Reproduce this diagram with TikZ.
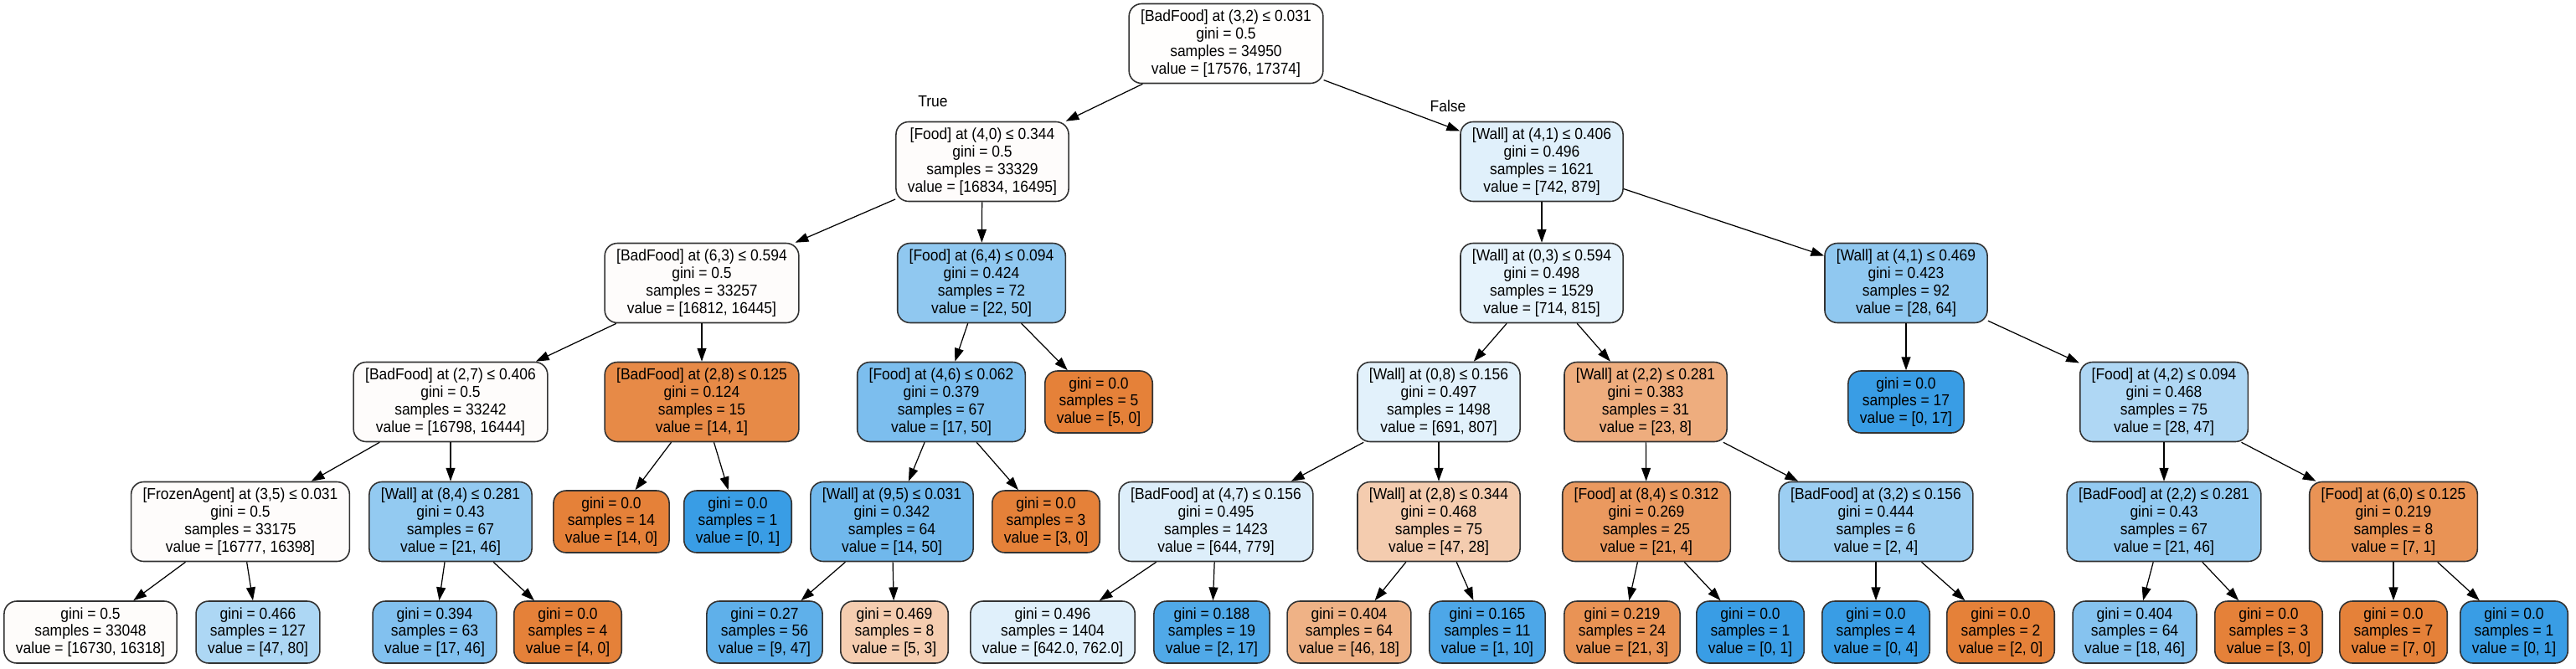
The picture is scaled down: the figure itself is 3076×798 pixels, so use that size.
\documentclass[tikz,border=0pt]{standalone}
\usepackage{fontspec}
\setmainfont{Liberation Sans}[FakeStretch=0.92]
\usepackage{xcolor}
\usepackage{tikz}
\usetikzlibrary{arrows.meta}
\definecolor{orng}{HTML}{E58139}
\definecolor{blu}{HTML}{399DE5}
\tikzset{
  ar/.style={-{Triangle[length=9pt,width=6.2pt]},line width=0.7pt},
  nd/.style={draw=black!80,line width=0.9pt,rounded corners=0.3cm,align=center,inner xsep=0.28cm,inner ysep=0pt,font=\fontsize{10.8}{11.9}\selectfont},
  sp/.style={nd,minimum height=1.9cm},
  lf/.style={nd,minimum height=1.48cm},
  lbl/.style={font=\fontsize{10.8}{11.9}\selectfont}
}
\newcommand{\spl}[4]{#1\\gini = #2\\samples = #3\\value = [#4]}
\newcommand{\lfv}[3]{gini = #1\\samples = #2\\value = [#3]}

\begin{document}
\begin{tikzpicture}[x=0.02cm,y=-0.02cm]
\fill[white] (0,0) rectangle (3076,798);
\useasboundingbox (0,0) rectangle (3076,798);
\node[sp,fill=orng!1.15] (r) at (1464,52) {\spl{[BadFood] at (3,2) ≤ 0.031}{0.5}{34950}{17576, 17374}};
\node[sp,fill=orng!2.01] (n1) at (1173,193) {\spl{[Food] at (4,0) ≤ 0.344}{0.5}{33329}{16834, 16495}};
\node[sp,fill=blu!15.6] (n2) at (1841,193) {\spl{[Wall] at (4,1) ≤ 0.406}{0.496}{1621}{742, 879}};
\node[sp,fill=orng!2.18] (n3) at (838,338) {\spl{[BadFood] at (6,3) ≤ 0.594}{0.5}{33257}{16812, 16445}};
\node[sp,fill=blu!56] (n4) at (1172,338) {\spl{[Food] at (6,4) ≤ 0.094}{0.424}{72}{22, 50}};
\node[sp,fill=blu!12.4] (n5) at (1841,338) {\spl{[Wall] at (0,3) ≤ 0.594}{0.498}{1529}{714, 815}};
\node[sp,fill=blu!56.25] (n6) at (2276,338) {\spl{[Wall] at (4,1) ≤ 0.469}{0.423}{92}{28, 64}};
\node[sp,fill=orng!2.11] (n7) at (538,480) {\spl{[BadFood] at (2,7) ≤ 0.406}{0.5}{33242}{16798, 16444}};
\node[sp,fill=orng!92.9] (n8) at (838,480) {\spl{[BadFood] at (2,8) ≤ 0.125}{0.124}{15}{14, 1}};
\node[sp,fill=blu!66] (n9) at (1124,480) {\spl{[Food] at (4,6) ≤ 0.062}{0.379}{67}{17, 50}};
\node[lf,fill=orng] (n10) at (1312,480) {\lfv{0.0}{5}{5, 0}};
\node[sp,fill=blu!14.4] (n11) at (1718,480) {\spl{[Wall] at (0,8) ≤ 0.156}{0.497}{1498}{691, 807}};
\node[sp,fill=orng!65.2] (n12) at (1965,480) {\spl{[Wall] at (2,2) ≤ 0.281}{0.383}{31}{23, 8}};
\node[lf,fill=blu] (n13) at (2276,480) {\lfv{0.0}{17}{0, 17}};
\node[sp,fill=blu!40.4] (n14) at (2584,480) {\spl{[Food] at (4,2) ≤ 0.094}{0.468}{75}{28, 47}};
\node[sp,fill=orng!2.26] (n15) at (287,623) {\spl{[FrozenAgent] at (3,5) ≤ 0.031}{0.5}{33175}{16777, 16398}};
\node[sp,fill=blu!54.3] (n16) at (538,623) {\spl{[Wall] at (8,4) ≤ 0.281}{0.43}{67}{21, 46}};
\node[lf,fill=orng] (n17) at (730,623) {\lfv{0.0}{14}{14, 0}};
\node[lf,fill=blu] (n18) at (881,623) {\lfv{0.0}{1}{0, 1}};
\node[sp,fill=blu!72] (n19) at (1065,623) {\spl{[Wall] at (9,5) ≤ 0.031}{0.342}{64}{14, 50}};
\node[lf,fill=orng] (n20) at (1249,623) {\lfv{0.0}{3}{3, 0}};
\node[sp,fill=blu!17.3] (n21) at (1452,623) {\spl{[BadFood] at (4,7) ≤ 0.156}{0.495}{1423}{644, 779}};
\node[sp,fill=orng!40.4] (n22) at (1718,623) {\spl{[Wall] at (2,8) ≤ 0.344}{0.468}{75}{47, 28}};
\node[sp,fill=orng!81] (n23) at (1966,623) {\spl{[Food] at (8,4) ≤ 0.312}{0.269}{25}{21, 4}};
\node[sp,fill=blu!50] (n24) at (2240,623) {\spl{[BadFood] at (3,2) ≤ 0.156}{0.444}{6}{2, 4}};
\node[sp,fill=blu!54.3] (n25) at (2584,623) {\spl{[BadFood] at (2,2) ≤ 0.281}{0.43}{67}{21, 46}};
\node[sp,fill=orng!85.7] (n26) at (2858,623) {\spl{[Food] at (6,0) ≤ 0.125}{0.219}{8}{7, 1}};
\node[lf,fill=orng!2.46] (l1) at (108,755) {\lfv{0.5}{33048}{16730, 16318}};
\node[lf,fill=blu!41.25] (l2) at (308,755) {\lfv{0.466}{127}{47, 80}};
\node[lf,fill=blu!63] (l3) at (519,755) {\lfv{0.394}{63}{17, 46}};
\node[lf,fill=orng] (l4) at (678,755) {\lfv{0.0}{4}{4, 0}};
\node[lf,fill=blu!80.9] (l5) at (913,755) {\lfv{0.27}{56}{9, 47}};
\node[lf,fill=orng!40] (l6) at (1068,755) {\lfv{0.469}{8}{5, 3}};
\node[lf,fill=blu!15.7] (l7) at (1257,755) {\lfv{0.496}{1404}{642.0, 762.0}};
\node[lf,fill=blu!88.2] (l8) at (1447,755) {\lfv{0.188}{19}{2, 17}};
\node[lf,fill=orng!60.9] (l9) at (1611,755) {\lfv{0.404}{64}{46, 18}};
\node[lf,fill=blu!90] (l10) at (1776,755) {\lfv{0.165}{11}{1, 10}};
\node[lf,fill=orng!85.7] (l11) at (1937,755) {\lfv{0.219}{24}{21, 3}};
\node[lf,fill=blu] (l12) at (2090,755) {\lfv{0.0}{1}{0, 1}};
\node[lf,fill=blu] (l13) at (2240,755) {\lfv{0.0}{4}{0, 4}};
\node[lf,fill=orng] (l14) at (2389,755) {\lfv{0.0}{2}{2, 0}};
\node[lf,fill=blu!60.9] (l15) at (2549,755) {\lfv{0.404}{64}{18, 46}};
\node[lf,fill=orng] (l16) at (2709,755) {\lfv{0.0}{3}{3, 0}};
\node[lf,fill=orng] (l17) at (2858,755) {\lfv{0.0}{7}{7, 0}};
\node[lf,fill=blu] (l18) at (3002,755) {\lfv{0.0}{1}{0, 1}};
\node[lbl] (tl) at (1114,121) {True};
\node[lbl] (fl) at (1729,127) {False};
\foreach \a/\b in {r/n1,r/n2,n1/n3,n1/n4,n2/n5,n2/n6,n3/n7,n3/n8,n4/n9,n4/n10,n5/n11,n5/n12,n6/n13,n6/n14,n7/n15,n7/n16,n8/n17,n8/n18,n9/n19,n9/n20,n11/n21,n11/n22,n12/n23,n12/n24,n14/n25,n14/n26,n15/l1,n15/l2,n16/l3,n16/l4,n19/l5,n19/l6,n21/l7,n21/l8,n22/l9,n22/l10,n23/l11,n23/l12,n24/l13,n24/l14,n25/l15,n25/l16,n26/l17,n26/l18}{\draw[ar] (\a)--(\b);}
\end{tikzpicture}
\end{document}
